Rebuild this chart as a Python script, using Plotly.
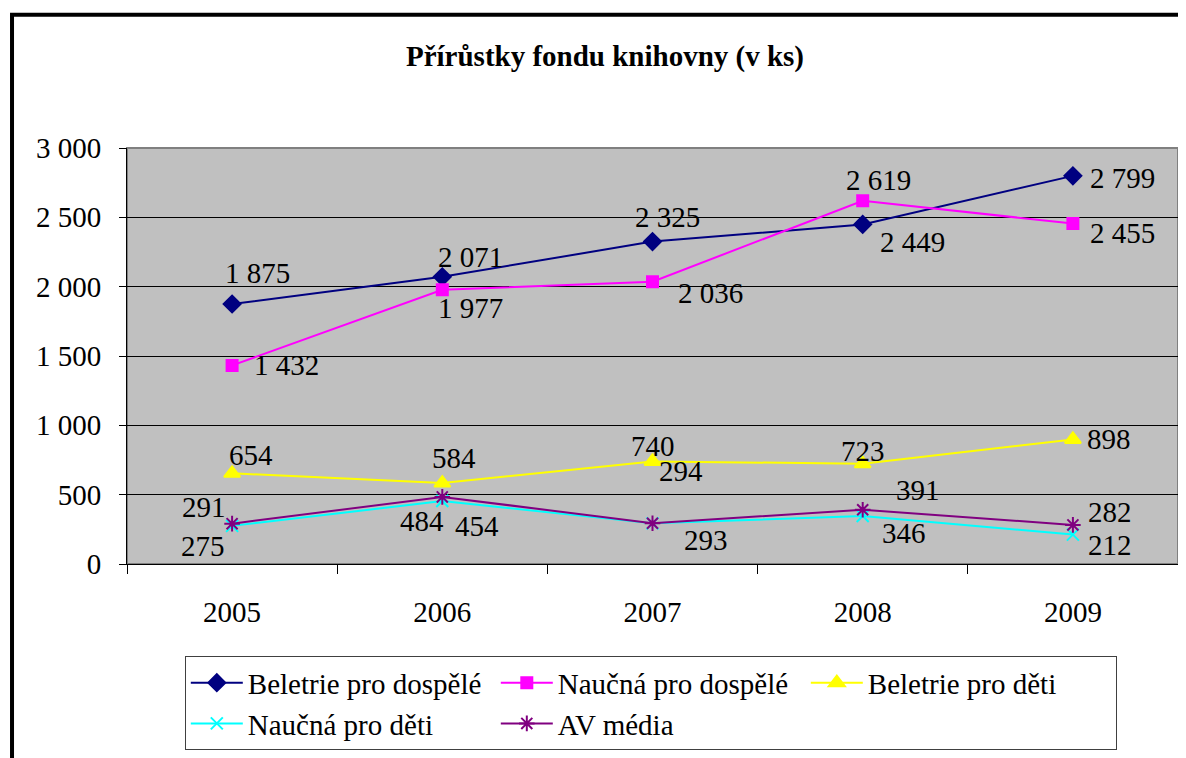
import plotly.graph_objects as go

# Přírůstky fondu knihovny 2005–2009 (v ks)
YEARS = ["2005", "2006", "2007", "2008", "2009"]
BELETRIE_DOSPELE = [1875, 2071, 2325, 2449, 2799]
NAUCNA_DOSPELE = [1432, 1977, 2036, 2619, 2455]
BELETRIE_DETI = [654, 584, 740, 723, 898]
NAUCNA_DETI = [275, 454, 293, 346, 212]
AV_MEDIA = [291, 484, 294, 391, 282]

SERIES = [
    ("Beletrie pro dospělé", BELETRIE_DOSPELE),
    ("Naučná pro dospělé", NAUCNA_DOSPELE),
    ("Beletrie pro děti", BELETRIE_DETI),
    ("Naučná pro děti", NAUCNA_DETI),
    ("AV média", AV_MEDIA),
]

# vzhled řad: barva, symbol, velikost značky
STYLE = [
    ("#000080", "diamond", 13),
    ("#ff00ff", "square", 11),
    ("#ffff00", "triangle-up", 14),
    ("#00ffff", "x-thin-open", 12),
    ("#800080", "asterisk-open", 13),
]

# posun popisků dat (px, vpravo / dolů) – ručně rozmístěné jako v Excelu
LABEL_SHIFT = [
    [(25, -31), (28, -20), (15, -25), (50, 18), (50, 2)],
    [(54, 0), (28, 18), (58, 11), (16, -21), (50, 9)],
    [(19, -18), (12, -25), (0, -15), (0, -13), (36, 0)],
    [(-29, 20), (35, 25), (53, 17), (41, 17), (37, 10)],
    [(-28, -17), (-20, 24), (28, -52), (55, -20), (37, -13)],
]

FONT = "Times New Roman"

fig = go.Figure()
for (name, vals), (color, sym, size) in zip(SERIES, STYLE):
    fig.add_trace(
        go.Scatter(
            x=YEARS, y=vals, name=name, mode="lines+markers",
            line=dict(color=color, width=2),
            marker=dict(symbol=sym, size=size, color=color,
                        line=dict(color=color, width=2)),
        )
    )

# popisky dat; na kategoriální ose se umisťují indexem kategorie
for (name, vals), shifts in zip(SERIES, LABEL_SHIFT):
    for i, (v, (dx, dy)) in enumerate(zip(vals, shifts)):
        fig.add_annotation(
            x=i, y=v, text=f"{v:,}".replace(",", " "), showarrow=False,
            xshift=dx, yshift=-dy, font=dict(family=FONT, size=29, color="black"),
        )

# rámeček celého grafu (přesahuje okraj obrázku)
fig.add_shape(
    type="rect", xref="paper", yref="paper",
    x0=-0.1094, x1=1.06, y0=-0.7, y1=1.3206,
    line=dict(color="black", width=4), fillcolor="rgba(0,0,0,0)",
)
# šedý okraj plochy grafu
fig.add_shape(
    type="rect", xref="paper", yref="paper", x0=0, x1=1, y0=0, y1=1,
    line=dict(color="#808080", width=2), fillcolor="rgba(0,0,0,0)", layer="below",
)

# stránka má okraj 8 px, proto je graf o 8 px menší
fig.update_layout(
    width=1178, height=750,
    paper_bgcolor="white", plot_bgcolor="#c0c0c0",
    margin=dict(l=119, r=8, t=140, b=192),
    font=dict(family=FONT, size=29, color="black"),
    separators=", ",
    title=dict(
        text="<b>Přírůstky fondu knihovny (v ks)</b>",
        x=597 / 1178, xanchor="center", xref="container",
        y=1 - 48 / 750, yanchor="middle", yref="container",
        font=dict(family=FONT, size=29, color="black"),
    ),
    showlegend=True,
    legend=dict(
        orientation="h", x=0.055, xanchor="left", y=-0.222, yanchor="top",
        bgcolor="white", bordercolor="#404040", borderwidth=1,
        font=dict(family=FONT, size=29, color="black"),
        entrywidth=243, entrywidthmode="pixels", itemwidth=52,
        traceorder="normal",
    ),
)
fig.update_xaxes(
    type="category", range=[-0.5, len(YEARS) - 0.5],
    showgrid=False, showline=True, linecolor="black", linewidth=1,
    ticks="outside", tickson="boundaries", ticklen=9, tickcolor="black",
    ticklabelstandoff=22, zeroline=False, automargin=False,
)
fig.update_yaxes(
    range=[0, 3000], dtick=500, tickformat=",", showgrid=True,
    gridcolor="black", gridwidth=1, showline=True, linecolor="black", linewidth=1,
    ticks="outside", ticklen=7, tickcolor="black", ticklabelstandoff=12,
    zeroline=False, automargin=False,
)

fig.write_html("out.html")
